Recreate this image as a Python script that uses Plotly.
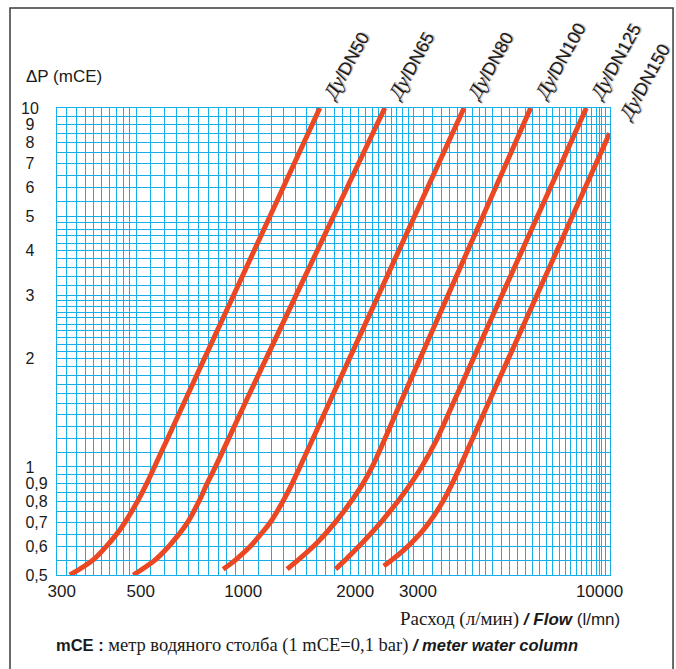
import numpy as np
import plotly.graph_objects as go

# ---- data (flow l/min, pressure drop mCE) ----
flow_dn50 = [326, 378, 412, 441, 465, 504, 536, 563, 680, 777, 938, 1189, 1640]
dp_dn50 = [0.50, 0.55, 0.60, 0.65, 0.70, 0.80, 0.90, 1.00, 1.5, 2.0, 3.0, 5.0, 10.0]

flow_dn65 = [491, 565, 617, 660, 697, 750, 792, 835, 1010, 1158, 1405, 1793, 2496]
dp_dn65 = [0.50, 0.55, 0.60, 0.65, 0.70, 0.80, 0.90, 1.00, 1.5, 2.0, 3.0, 5.0, 10.0]

flow_dn80 = [878, 950, 1045, 1120, 1190, 1290, 1372, 1442, 1738, 1984, 2392, 3027, 4165]
dp_dn80 = [0.519, 0.55, 0.60, 0.65, 0.70, 0.80, 0.90, 1.00, 1.5, 2.0, 3.0, 5.0, 10.0]

flow_dn100 = [1328, 1606, 1866, 2170, 2300, 2755, 3131, 3750, 4708, 6408]
dp_dn100 = [0.519, 0.613, 0.727, 0.90, 1.00, 1.5, 2.0, 3.0, 5.0, 10.0]

flow_dn125 = [1816, 1931, 2108, 2429, 2710, 2955, 3166, 3502, 3877, 4419, 5314, 6702, 9183]
dp_dn125 = [0.519, 0.55, 0.60, 0.70, 0.80, 0.90, 1.00, 1.2, 1.5, 2.0, 3.0, 5.0, 10.0]

flow_dn150 = [2480, 2608, 2892, 3128, 3325, 3629, 3861, 4055, 4866, 5544, 6662, 8395, 10673]
dp_dn150 = [0.530, 0.55, 0.60, 0.65, 0.70, 0.80, 0.90, 1.00, 1.5, 2.0, 3.0, 5.0, 8.5]

series_names = ["DN50", "DN65", "DN80", "DN100", "DN125", "DN150"]
series_flow = [flow_dn50, flow_dn65, flow_dn80, flow_dn100, flow_dn125, flow_dn150]
series_dp = [dp_dn50, dp_dn65, dp_dn80, dp_dn100, dp_dn125, dp_dn150]

x_range = [300, 10700]
y_range = [0.5, 10]

x_label_vals = [300, 500, 1000, 2000, 3000, 10000]
x_label_text = ["300", "500", "1000", "2000", "3000", "10000"]
x_label_pad = [2, 2, 0, 2, 2, 0]
y_label_vals = [0.5, 0.6, 0.7, 0.8, 0.9, 1, 2, 3, 4, 5, 6, 7, 8, 9, 10]
y_label_text = ["0,5", "0,6", "0,7", "0,8", "0,9", "1", "2", "3", "4", "5",
                "6", "7", "8", "9", "10"]

# grid line positions (log paper)
x_grid = np.union1d(np.round(np.concatenate([
    np.arange(300, 500, 20), np.arange(500, 1000, 50),
    np.arange(1000, 3000, 100), np.arange(3000, 5000, 200),
    np.arange(5000, 10701, 300)]), 3), x_label_vals)
y_grid = np.union1d(np.round(np.concatenate([
    np.arange(0.5, 1.0, 0.05), np.arange(1.0, 3.0, 0.1),
    np.arange(3.0, 5.0, 0.2), np.arange(5.0, 10.01, 0.5)]), 3), y_label_vals)

NB = "\u00a0"


def tick_arrays(grid, vals, texts, lead=None, trail=None):
    out = []
    for g in grid:
        t = ""
        for k, (v, s) in enumerate(zip(vals, texts)):
            if abs(g - v) < 1e-6:
                t = s
                if lead is not None:
                    t = NB * lead[k] + t
                if trail is not None:
                    t = t + NB * trail(s)
        out.append(t)
    return [float(g) for g in grid], out


def ypad(s):
    if s == "10":
        return 2
    if len(s) == 1:
        return 3
    return 0


xtv, xtt = tick_arrays(x_grid, x_label_vals, x_label_text, lead=x_label_pad)
ytv, ytt = tick_arrays(y_grid, y_label_vals, y_label_text, trail=ypad)

CURVE = "#EC4723"
GRID = "#16AEEA"
INK = "#1a1a1a"
SANS = "Liberation Sans, Arial, sans-serif"
SERIF = "Liberation Serif, Times New Roman, serif"

fig = go.Figure()
for name, fx, fy in zip(series_names, series_flow, series_dp):
    fig.add_trace(go.Scatter(
        x=fx, y=fy, mode="lines", name=name,
        line=dict(color=CURVE, width=5, shape="spline", smoothing=1.0),
        showlegend=False, hoverinfo="skip"))

# rotated curve labels at the top end of each curve
for i, (name, fx, fy) in enumerate(zip(series_names, series_flow, series_dp)):
    last = i == len(series_names) - 1
    fig.add_annotation(
        x=np.log10(fx[-1]), y=np.log10(fy[-1]), xref="x", yref="y",
        text=f'<span style="font-family:{SERIF};font-size:20px"><i>Ду</i></span>/{name}',
        textangle=-61, showarrow=False, xanchor="left", yanchor="bottom",
        xshift=(2 if last else -4), yshift=(6 if last else 1),
        font=dict(family=SANS, size=18, color=INK,
                  shadow="1px 1px 1px #a8a8a8"))

# y axis title
fig.add_annotation(x=-0.06, y=1.068, xref="paper", yref="paper",
                   text="ΔP (mCE)", showarrow=False, xanchor="left",
                   yanchor="middle", font=dict(family=SANS, size=17, color=INK))
# x axis title
fig.add_annotation(
    x=1.022, y=-0.094, xref="paper", yref="paper", showarrow=False,
    xanchor="right", yanchor="middle",
    text=(f'<span style="font-family:{SERIF};font-size:19px">Расход (л/мин)</span>'
          f' <b><i>/ Flow</i></b> (l/mn)'),
    font=dict(family=SANS, size=17, color=INK))
# footnote
fig.add_annotation(
    x=-0.006, y=-0.15, xref="paper", yref="paper", showarrow=False,
    xanchor="left", yanchor="middle",
    text=(f'<b>mCE :</b> <span style="font-family:{SERIF};font-size:18.5px">'
          f'метр водяного столба (1 mCE=0,1 bar)</span> <b><i>/ meter water column</i></b>'),
    font=dict(family=SANS, size=16.5, color=INK))

# outer frame
fig.add_shape(type="rect", xref="paper", yref="paper",
              x0=-0.085, x1=1.114, y0=-0.25, y1=1.214,
              line=dict(color="#3a3a3a", width=1.5), layer="below")

fig.update_xaxes(
    type="log", range=[np.log10(x_range[0]), np.log10(x_range[1])],
    tickmode="array", tickvals=xtv, ticktext=xtt, ticks="",
    showgrid=True, gridcolor=GRID, gridwidth=1.2, zeroline=False,
    showline=True, linecolor=GRID, linewidth=1.2, mirror=True,
    tickfont=dict(family=SANS, size=17, color=INK),
    ticklabelstandoff=0)
fig.update_yaxes(
    type="log", range=[np.log10(y_range[0]), np.log10(y_range[1])],
    tickmode="array", tickvals=ytv, ticktext=ytt, ticks="",
    showgrid=True, gridcolor=GRID, gridwidth=1.2, zeroline=False,
    showline=True, linecolor=GRID, linewidth=1.2, mirror=True,
    tickfont=dict(family=SANS, size=16, color=INK),
    ticklabelstandoff=5)

fig.update_layout(
    width=676, height=669,
    margin=dict(l=57, r=66, t=108, b=94, autoexpand=False),
    paper_bgcolor="white", plot_bgcolor="white",
    showlegend=False)

fig.write_html("out.html")
